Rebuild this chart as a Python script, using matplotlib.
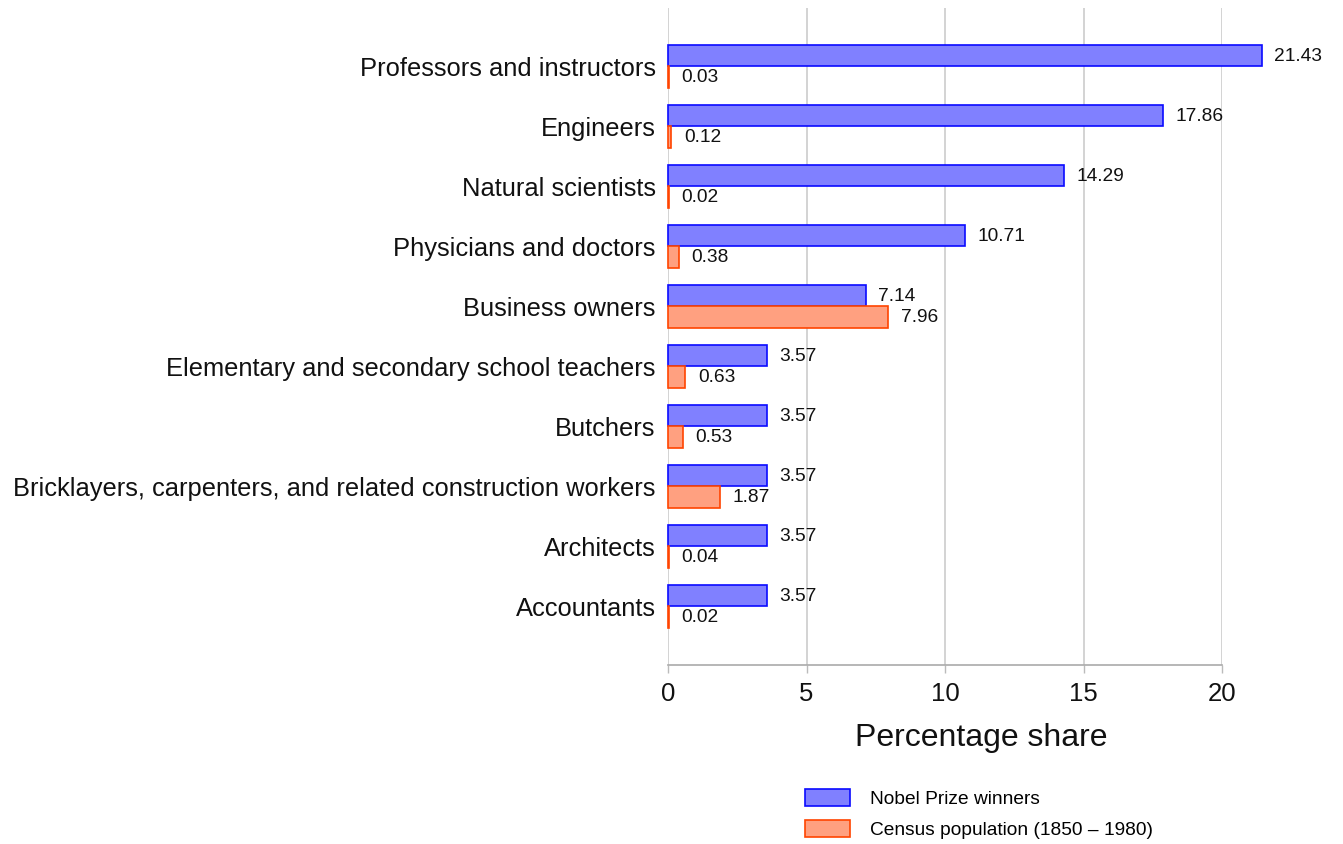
import matplotlib
matplotlib.use("Agg")
import matplotlib.pyplot as plt
import numpy as np

plt.rcParams['font.family'] = ['Liberation Sans', 'DejaVu Sans']

categories = [
    "Professors and instructors",
    "Engineers",
    "Natural scientists",
    "Physicians and doctors",
    "Business owners",
    "Elementary and secondary school teachers",
    "Butchers",
    "Bricklayers, carpenters, and related construction workers",
    "Architects",
    "Accountants",
]
nobel = [21.43, 17.86, 14.29, 10.71, 7.14, 3.57, 3.57, 3.57, 3.57, 3.57]
census = [0.03, 0.12, 0.02, 0.38, 7.96, 0.63, 0.53, 1.87, 0.04, 0.02]
series_names = ["Nobel Prize winners", "Census population (1850 \u2013 1980)"]
x_ticks = [0, 5, 10, 15, 20]

W, H = 1343, 844
fig = plt.figure(figsize=(W / 100, H / 100), dpi=100)
ax = fig.add_axes([668 / W, 1 - 665 / H, (1222 - 668) / W, (665 - 8) / H])

y = np.arange(len(categories))
bh = 0.36
b1 = ax.barh(y - bh / 2, nobel, height=bh, color="#8080ff", edgecolor="#0a0aff",
             linewidth=1.2, label=series_names[0], clip_on=False, zorder=3)
b2 = ax.barh(y + bh / 2, census, height=bh, color="#ffa080", edgecolor="#ff4400",
             linewidth=1.2, label=series_names[1], clip_on=False, zorder=3)

for yy, v in zip(y - bh / 2, nobel):
    ax.annotate(f"{v:.2f}", (v, yy), xytext=(9, -0.7), textcoords="offset points",
                va="center", ha="left", fontsize=13.8, color="#111111",
                annotation_clip=False)
for yy, v in zip(y + bh / 2, census):
    ax.annotate(f"{v:.2f}", (v, yy), xytext=(9, -0.7), textcoords="offset points",
                va="center", ha="left", fontsize=13.8, color="#111111",
                annotation_clip=False)

ax.set_xlim(0, 20)
ax.set_ylim(9.98, -0.97)
ax.set_yticks(y)
ax.set_yticklabels(categories, fontsize=18.4, color="#111111")
ax.tick_params(axis="y", length=0, pad=9)
ax.set_xticks(x_ticks)
ax.set_xticklabels([str(t) for t in x_ticks], fontsize=18.5, color="#111111")
ax.tick_params(axis="x", length=6, width=1, color="#bbbbbb", pad=6)

ax.grid(axis="x", color="#cccccc", linewidth=1.2, zorder=0)
ax.set_axisbelow(True)
for s in ["top", "right", "left"]:
    ax.spines[s].set_visible(False)
ax.spines["bottom"].set_color("#aaaaaa")
ax.spines["bottom"].set_linewidth(1.2)

ax.set_xlabel("Percentage share", fontsize=23, color="#111111")
ax.xaxis.set_label_coords((981 - 668) / 554, (665 - 738) / 657)
ax.xaxis.label.set_va("center")

fig.legend(handles=[b1, b2], labels=series_names, loc="upper left",
           bbox_to_anchor=(805 / W, 1 - 789 / H), frameon=False, fontsize=13.8,
           handlelength=2.35, handleheight=0.95, handletextpad=1.04,
           labelspacing=0.65, borderpad=0, borderaxespad=0)

fig.savefig("out.png", dpi=100, facecolor="white")
